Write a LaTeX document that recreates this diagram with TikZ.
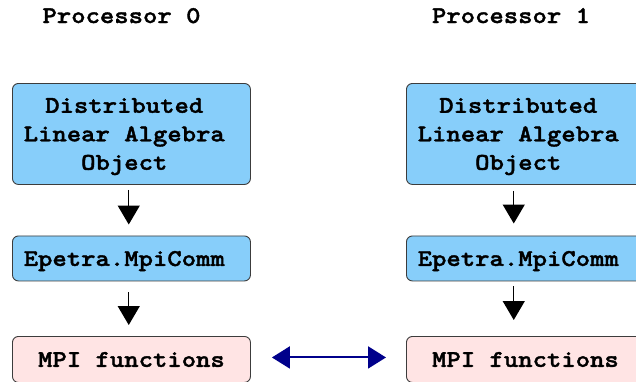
\documentclass[tikz,border=0pt]{standalone}
\usepackage{fontspec}
% slab-serif bold typewriter face, widened to a 0.6em advance
\newfontfamily\codefont{lmmonolt10-bold}[Extension=.otf, FakeStretch=1.14, FakeBold=1.6]
\usetikzlibrary{arrows.meta}
\definecolor{boxblue}{RGB}{135,206,250}
\definecolor{boxpink}{RGB}{255,228,228}
\definecolor{boxedge}{RGB}{60,60,60}
\definecolor{linkblue}{RGB}{0,0,139}
\tikzset{
  code/.style={font=\codefont\fontsize{24}{28.5}\selectfont},
  layer/.style={code, draw=boxedge, line width=0.9pt, rounded corners=6pt,
    minimum width=238pt, align=center, inner sep=0pt, text depth=0pt,
    anchor=north west},
  objbox/.style={layer, fill=boxblue, minimum height=101pt},
  commbox/.style={layer, fill=boxblue, minimum height=45pt},
  mpibox/.style={layer, fill=boxpink, minimum height=46pt},
  down/.style={-{Triangle[length=19pt,width=22pt]}, line width=1.3pt, black},
  link/.style={{Triangle[length=18pt,width=22pt]}-{Triangle[length=18pt,width=22pt]},
    line width=2pt, linkblue},
  title/.style={code, anchor=base}
}
\newcommand{\pad}{\hphantom{a}}
\begin{document}
\begin{tikzpicture}[x=1pt,y=-1pt]
  \clip (0,0) rectangle (636,381);
  \fill[white] (0,0) rectangle (636,381);

  % processor headings
  \node[title] (p0) at (121.5,23) {Processor 0};
  \node[title] (p1) at (511,23) {Processor 1};

  % processor 0 stack
  \node[objbox]  (obj0)  at (12,83)    {Distributed\pad\\Linear Algebra\pad\\Object\pad};
  \node[commbox] (comm0) at (12,235.5) {Epetra.MpiComm\pad};
  \node[mpibox]  (mpi0)  at (12,336)   {MPI functions};

  % processor 1 stack
  \node[objbox]  (obj1)  at (406,83)    {Distributed\pad\\Linear Algebra\pad\\Object\pad};
  \node[commbox] (comm1) at (406,235.5) {Epetra.MpiComm\pad};
  \node[mpibox]  (mpi1)  at (406,336)   {MPI functions};

  % layer-to-layer calls
  \draw[down, shorten <=5pt, shorten >=11pt]
    ([xshift=-2.7pt]obj0.south) -- ([xshift=-2.7pt]comm0.north);
  \draw[down, shorten <=11pt, shorten >=11pt]
    ([xshift=-2.7pt]comm0.south) -- ([xshift=-2.7pt]mpi0.north);
  \draw[down, shorten <=6pt, shorten >=12pt]
    ([xshift=-11.7pt]obj1.south) -- ([xshift=-11.7pt]comm1.north);
  \draw[down, shorten <=5pt, shorten >=16pt]
    ([xshift=-11.7pt]comm1.south) -- ([xshift=-11.7pt]mpi1.north);

  % message passing between processors
  \draw[link, shorten <=21pt, shorten >=20pt]
    ([yshift=2pt]mpi0.east) -- ([yshift=2pt]mpi1.west);
\end{tikzpicture}
\end{document}
